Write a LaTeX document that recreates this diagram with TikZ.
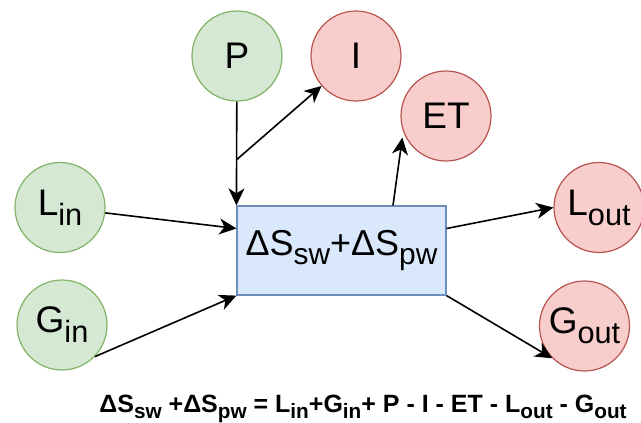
\documentclass[tikz,border=0pt]{standalone}
\usepackage{fontspec}
\setmainfont{Liberation Sans}
\usepackage{graphicx}
\usepackage{tikz}
\usetikzlibrary{arrows.meta,shapes,positioning}

\definecolor{ingreen}{HTML}{D5E8D4}
\definecolor{ingreenline}{HTML}{82B366}
\definecolor{outred}{HTML}{F8CECC}
\definecolor{outredline}{HTML}{B85450}
\definecolor{storeblue}{HTML}{DAE8FC}
\definecolor{storeblueline}{HTML}{6C8EBF}

\newcommand{\lo}[1]{\raisebox{-.27em}{\scalebox{.83}{#1}}}

\begin{document}
\begin{tikzpicture}[
  x = 1pt, y = -1pt,
  > = {Stealth[length=17pt, width=16pt, inset=5pt]},
  flux/.style = {circle, minimum size=90pt, inner sep=0pt, line width=1.2pt,
                 font=\fontsize{37}{40}\selectfont},
  influx/.style = {flux, draw=ingreenline, fill=ingreen},
  outflux/.style = {flux, draw=outredline, fill=outred},
  store/.style = {rectangle, draw=storeblueline, fill=storeblue, line width=1.2pt,
                  minimum width=209pt, minimum height=89pt, inner sep=0pt,
                  font=\fontsize{36}{40}\selectfont},
  every path/.style = {line width=1.6pt}
]
\useasboundingbox (0,0) rectangle (641,423);

% ───────── storage ─────────
\node[store] (S) at (341.5,250.5) {ΔS\lo{sw}+ΔS\lo{pw}};

% ───────── inputs ─────────
\node[influx] (P)   at (237,56)    {P};
\node[influx] (Lin) at (60,207.5)  {L\lo{in}};
\node[influx] (Gin) at (62,325)    {G\lo{in}};

% ───────── outputs ─────────
\node[outflux] (I)    at (356,56)    {I};
\node[outflux] (ET)   at (446,116)   {ET};
\node[outflux] (Lout) at (599,207.5) {L\lo{out}};
\node[outflux] (Gout) at (584.5,326) {G\lo{out}};

% ───────── balance ─────────
\node[font=\fontsize{25}{27}\selectfont\bfseries, anchor=base] (eq) at (363,412)
  {ΔS\lo{sw} +ΔS\lo{pw} = L\lo{in}+G\lo{in}+ P - I - ET - L\lo{out} - G\lo{out}};

% ───────── arrows ──────────
\draw[->] (P) -- coordinate[pos=0.56] (split) (S.north west);
\draw[->] (split) -- (I);
\draw[->, shorten >=6pt] ([xshift=51.5pt]S.north) -- (ET.200);
\draw[->] (Lin) -- ([yshift=22pt]S.west);
\draw[->] (Gin.-44) -- (S.south west);
\draw[->] ([yshift=22pt]S.east) -- (Lout.west);
\draw[->] (S.south east) -- (Gout.225);
\end{tikzpicture}
\end{document}
